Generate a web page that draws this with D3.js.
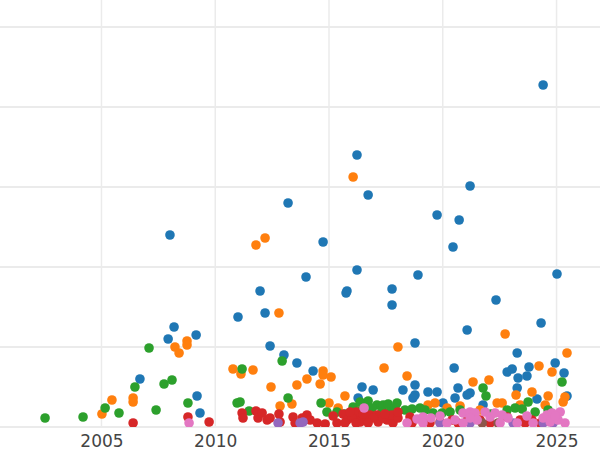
<!DOCTYPE html>
<html><head><meta charset="utf-8">
<script src="https://cdn.jsdelivr.net/npm/d3@7"></script>
<style>html,body{margin:0;padding:0;background:#fff;}</style>
</head><body>
<svg id="chart" width="600" height="450"></svg>
<script>
// Tick values
const xTicks = [2005, 2010, 2015, 2020, 2025];
const yTicks = [0, 20, 40, 60, 80, 100];

// Series: [year, value]
const seriesBlue = [
[2024.41,85.5],[2016.23,68],[2021.20,60.25],[2016.72,58],[2013.20,56],[2019.75,53],[2020.72,51.75],
[2008.01,48],[2014.74,46.25],[2020.45,45],[2016.23,39.25],[2013.99,37.5],[2018.91,38],[2025.02,38.25],
[2011.97,34],[2015.79,34],[2015.75,33.5],[2017.77,34.5],[2017.77,30.5],[2022.34,31.75],[2011.00,27.5],
[2012.19,28.5],[2008.19,25],[2024.32,26],[2021.07,24.25],[2007.93,22],[2009.16,23],[2012.41,20.25],
[2018.78,21],[2013.02,18],[2013.59,16],[2023.27,18.5],[2024.94,16],[2006.69,12],[2014.30,14],
[2020.50,14.75],[2025.33,13.5],[2022.83,13.75],[2023.05,14.5],[2023.79,15],[2023.31,12.25],[2023.70,12.75],
[2009.20,7.75],[2009.33,3.5],[2016.45,10],[2016.28,7.25],[2016.94,9.25],[2018.78,10.5],[2018.25,9.25],
[2018.78,8],[2018.69,7.25],[2019.35,8.75],[2019.75,8.75],[2020.67,9.75],[2021.20,8.5],[2021.07,8],
[2020.54,7.25],[2020.01,6],[2021.77,5.5],[2023.27,9.75],[2025.46,7.75],[2024.14,7]
];
const seriesOrange = [
[2016.06,62.5],[2012.19,47.25],[2011.79,45.5],[2012.80,28.5],[2022.74,23.25],[2008.76,21.5],[2008.76,20.5],
[2008.23,20],[2008.41,18.5],[2010.78,14.5],[2011.13,13.25],[2011.66,14.25],[2012.45,10],[2013.59,10.5],
[2014.03,12],[2014.61,10.75],[2014.74,14],[2014.74,13],[2015.09,12.5],[2017.42,14.75],[2018.03,20],
[2018.43,12.75],[2021.33,11.25],[2022.03,11.75],[2025.46,18.5],[2024.23,15.25],[2024.80,13.75],
[2005.46,6.75],[2005.02,3.25],[2006.39,7.25],[2006.39,6.25],[2012.85,5.25],[2013.37,5.75],[2015.00,6],
[2015.70,7.75],[2015.40,4.75],[2019.66,6],[2020.19,4.75],[2021.64,4.25],[2022.39,6],[2023.22,8],
[2023.92,8.75],[2024.63,7.75],[2025.37,7.5],[2025.29,6.25],[2022.61,6],[2019.35,5.5],[2020.76,5.25],
[2023.40,5.5],[2024.50,5.5],[2017.46,5],[2016.37,5.75]
];
const seriesGreen = [
[2002.52,2.25],[2004.19,2.5],[2005.16,4.75],[2005.77,3.5],[2006.47,10],[2007.09,19.75],[2007.40,4.25],
[2007.75,10.75],[2008.10,11.75],[2008.80,6],[2011.18,14.5],[2010.96,6],[2011.09,6.25],[2011.49,4],
[2012.94,16.5],[2013.20,7.25],[2014.65,6],[2014.91,3.75],[2015.35,3.75],[2016.06,5],[2016.72,6.5],
[2017.11,5.5],[2017.38,5.5],[2017.60,5.75],[2017.68,3.75],[2017.33,3.75],[2017.99,6],[2018.34,4.25],
[2018.65,4.5],[2019.00,4.75],[2019.57,3.5],[2019.97,3.5],[2020.32,3.75],[2021.77,9.75],[2021.90,7.75],
[2022.12,3.25],[2021.11,2.5],[2025.24,11.25],[2023.75,6.25],[2023.49,4.5],[2023.18,4.75],[2022.83,4.25],
[2024.06,3.75],[2024.63,4.25],[2015.70,3.25],[2016.45,4.25],
[2016.37,6.25],[2016.89,4.75],[2017.90,4.75],[2019.22,4.25],[2020.76,4.25]
];
const seriesRed = [
[2006.39,1],[2008.80,2.5],[2009.73,1.25],[2011.18,3.5],[2011.22,2.25],[2011.79,4],[2011.88,2.25],
[2012.28,1.75],[2012.41,2.25],[2012.80,3.25],[2012.85,1.25],[2013.42,2.5],[2013.51,1],[2014.03,3],
[2014.17,1.75],[2014.48,1],[2014.83,0.75],[2015.18,2.75],[2015.35,1],[2015.62,3.25],[2015.79,1.75],
[2016.23,2.5],[2016.37,1.25],[2016.67,1.75],[2016.80,3],[2017.11,3],[2017.16,1.25],[2017.55,1.75],
[2017.81,1],[2018.56,2.5],[2018.65,1],[2019.13,1.75],[2019.44,1],[2019.88,1.25],[2020.41,1.75],
[2020.67,1],[2021.07,1.5],[2021.64,1.75],[2022.08,1],[2022.83,2.5],[2023.40,1.75],[2023.62,1],
[2023.92,1.75],[2024.85,1.75],[2024.28,1],[2016.19,3.75],[2017.77,3],[2018.03,2.25],[2016.01,2.25],
[2017.38,2.25],
[2015.93,3.75],[2016.50,3.25],[2016.94,2.25],[2017.46,3.25],[2018.03,3.75],[2016.72,1],[2016.19,1],
[2015.70,1],[2013.82,2.25],[2012.06,3.5]
];
const seriesPurple = [
[2012.76,1],[2013.73,1],[2013.86,1.25],[2019.88,1],[2023.09,1],[2024.41,1],[2024.85,1],[2021.20,1]
];
const seriesBrown = [
[2021.73,1],[2022.43,1]
];
const seriesPink = [
[2008.85,1],[2016.54,4.75],[2018.87,2],[2019.13,2.5],[2020.89,3.5],[2021.20,3.75],[2021.42,3.5],
[2021.86,3.75],[2021.51,1.75],[2022.08,2.5],[2022.61,3],[2022.87,2.25],[2024.41,2.25],[2024.58,3],
[2024.80,3.5],[2025.16,3.75],[2025.07,1.75],[2025.37,1],[2024.72,1.25],[2018.43,1],[2019.13,1],
[2020.19,1],[2020.89,1],[2022.52,1],[2023.27,1],[2023.97,1],[2020.54,1.75],[2019.48,2.25],
[2021.20,2.25],[2022.30,3.5],[2019.88,2.75],[2024.94,2.75],[2023.70,2.75]
];

const seriesList = [
  {name:"A", color:"#1f77b4", data:seriesBlue},
  {name:"B", color:"#ff7f0e", data:seriesOrange},
  {name:"C", color:"#2ca02c", data:seriesGreen},
  {name:"D", color:"#d62728", data:seriesRed},
  {name:"E", color:"#9467bd", data:seriesPurple},
  {name:"F", color:"#8c564b", data:seriesBrown},
  {name:"G", color:"#e377c2", data:seriesPink}
];

const W = 600, H = 450, plotBottom = 427;
const svg = d3.select("#chart");
const x = d3.scaleLinear().domain([2000.54, 2026.91]).range([0, W]);
const y = d3.scaleLinear().domain([0, 106.75]).range([plotBottom, 0]);

svg.append("defs").append("clipPath").attr("id","clip")
  .append("rect").attr("x",0).attr("y",0).attr("width",W).attr("height",plotBottom);

// grid
const g = svg.append("g");
g.selectAll("line.v").data(xTicks).join("line").attr("class","v")
  .attr("x1", d=>x(d)).attr("x2", d=>x(d)).attr("y1",0).attr("y2",plotBottom)
  .attr("stroke","#ebebeb").attr("stroke-width",1.5);
g.selectAll("line.h").data(yTicks).join("line").attr("class","h")
  .attr("x1",0).attr("x2",W).attr("y1", d=>y(d)).attr("y2", d=>y(d))
  .attr("stroke","#ebebeb").attr("stroke-width",2);

// points
const pts = svg.append("g").attr("clip-path","url(#clip)");
seriesList.forEach(s => {
  pts.append("g").selectAll("circle").data(s.data).join("circle")
    .attr("cx", d=>x(d[0])).attr("cy", d=>y(d[1])).attr("r", 4.8)
    .attr("fill", s.color);
});

// x axis labels
const xAxis = d3.axisBottom(x).tickValues(xTicks).tickFormat(d3.format("d")).tickSize(0).tickPadding(0);
const ax = svg.append("g").attr("transform", `translate(0,${plotBottom})`).call(xAxis);
ax.select(".domain").remove();
ax.selectAll("text").attr("font-family","DejaVu Sans, sans-serif").attr("font-size",17)
  .attr("fill","#444").attr("dy",null).attr("y",20);
</script>
</body></html>
